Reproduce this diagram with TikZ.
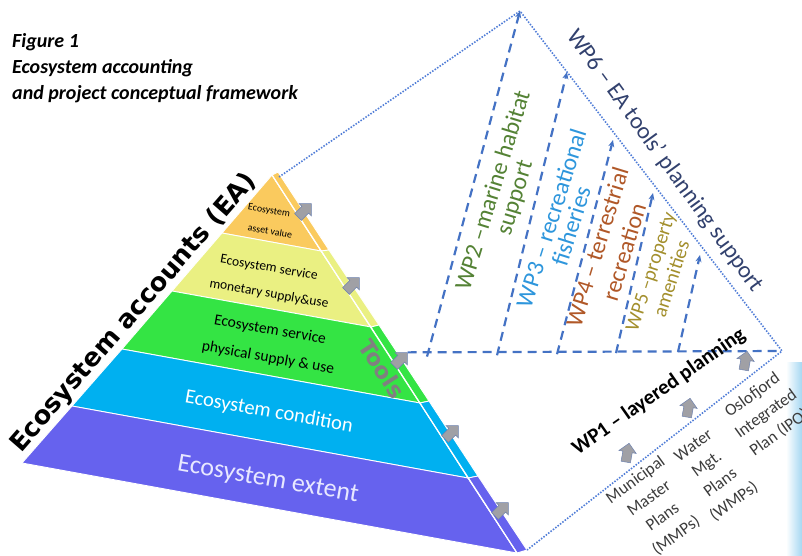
\documentclass[tikz,border=0pt]{standalone}
\usepackage{fontspec}
\setmainfont{Carlito}
\newfontfamily\djv{DejaVu Sans}
\usetikzlibrary{shapes.arrows,arrows.meta,calc}
\definecolor{corange}{RGB}{250,202,94}
\definecolor{cyellow}{RGB}{234,240,130}
\definecolor{cgreen}{RGB}{52,228,68}
\definecolor{cblue}{RGB}{0,176,240}
\definecolor{cpurple}{RGB}{102,98,238}
\definecolor{clav}{RGB}{232,232,255}
\definecolor{lineblue}{RGB}{68,114,196}
\definecolor{dotblue}{RGB}{80,125,215}
\definecolor{wptwo}{RGB}{84,130,53}
\definecolor{wpthree}{RGB}{46,150,220}
\definecolor{wpfour}{RGB}{176,88,40}
\definecolor{wpfive}{RGB}{163,143,45}
\definecolor{wpsix}{RGB}{50,65,110}
\definecolor{arrgray}{RGB}{160,160,165}
\definecolor{arredge}{RGB}{110,130,175}
\definecolor{txtgray}{RGB}{60,60,60}
\definecolor{barblue}{RGB}{165,215,242}
\tikzset{
  layer/.style={draw=white, line width=0.9pt},
  gar/.style={single arrow, fill=arrgray, draw=arredge, line width=0.5pt,
    minimum height=19pt, single arrow head extend=4pt, inner sep=4.5pt},
  dotl/.style={dotblue, line width=1.6pt, dash pattern=on 1.5pt off 1.5pt},
  dashl/.style={lineblue, line width=2.2pt, dash pattern=on 9pt off 6pt},
  dasharr/.style={dashl, -{Stealth[length=7pt,width=6pt]}},
  ltext/.style={inner sep=0pt, rotate=-10},
  ttl/.style={anchor=base west, inner sep=0pt, font=\fontsize{20}{22}\selectfont\bfseries\itshape},
  wptext/.style={inner sep=0pt, font=\fontsize{24}{26}\selectfont},
  coltext/.style={inner sep=0pt, rotate=36, align=center, text=txtgray, font=\fontsize{17}{23}\selectfont}
}
\begin{document}
\begin{tikzpicture}[x=1pt,y=-1pt]
\useasboundingbox (0,0) rectangle (802,555);
% right edge bar
\shade[left color=white, right color=barblue] (786,362) rectangle (802,555);
% title
\node[ttl] (t1) at (12,47) {Figure 1};
\node[ttl] (t2) at (12,73) {Ecosystem accounting};
\node[ttl] (t3) at (12,99) {and project conceptual framework};
% pyramid coordinates
\coordinate (A) at (272,175);
\coordinate (L1) at (222,233); \coordinate (L2) at (172,291); \coordinate (L3) at (122,349);
\coordinate (L4) at (72,406);  \coordinate (L5) at (22,463);
\coordinate (R1) at (321,251); \coordinate (R2) at (371,327); \coordinate (R3) at (420,403);
\coordinate (R4) at (468,478); \coordinate (R5) at (517,553);
\coordinate (O0) at (278,172); \coordinate (O1) at (329,250); \coordinate (O2) at (379,325);
\coordinate (O3) at (429,401); \coordinate (O4) at (478,476); \coordinate (O5) at (527,550);
% front face
\filldraw[layer, fill=corange] (A) -- (L1) -- (R1) -- cycle;
\filldraw[layer, fill=cyellow] (L1) -- (L2) -- (R2) -- (R1) -- cycle;
\filldraw[layer, fill=cgreen] (L2) -- (L3) -- (R3) -- (R2) -- cycle;
\filldraw[layer, fill=cblue] (L3) -- (L4) -- (R4) -- (R3) -- cycle;
\filldraw[layer, fill=cpurple] (L4) -- (L5) -- (R5) -- (R4) -- cycle;
% side face
\filldraw[layer, fill=corange] (A) -- (O0) -- (O1) -- (R1) -- cycle;
\filldraw[layer, fill=cyellow] (R1) -- (O1) -- (O2) -- (R2) -- cycle;
\filldraw[layer, fill=cgreen] (R2) -- (O2) -- (O3) -- (R3) -- cycle;
\filldraw[layer, fill=cblue] (R3) -- (O3) -- (O4) -- (R4) -- cycle;
\filldraw[layer, fill=cpurple] (R4) -- (O4) -- (O5) -- (R5) -- cycle;
\draw[white, line width=1.2pt] (A) -- (R5);
% layer texts
\node[ltext, font=\fontsize{10}{12}\selectfont] (o1) at (269,211) {Ecosystem};
\node[ltext, font=\fontsize{10}{12}\selectfont] (o2) at (270,231) {asset value};
\node[ltext, font=\fontsize{13.5}{15}\selectfont] (y1) at (269,268) {Ecosystem service};
\node[ltext, font=\fontsize{13.5}{15}\selectfont] (y2) at (269,294) {monetary supply\&use};
\node[ltext, font=\fontsize{15.5}{17}\selectfont] (g1) at (270,330) {Ecosystem service};
\node[ltext, font=\fontsize{15.5}{17}\selectfont] (g2) at (268,358) {physical supply \& use};
\node[ltext, text=white, font=\fontsize{20.5}{22}\selectfont] (b1) at (269,412) {Ecosystem condition};
\node[ltext, text=clav, font=\fontsize{26}{28}\selectfont] (p1) at (268,480) {Ecosystem extent};
% side labels
\node[inner sep=0pt, rotate=49, font=\djv\bfseries\fontsize{25.5}{28}\selectfont] (ea) at (134,313) {Ecosystem accounts (EA)};
\node[inner sep=0pt, rotate=-57, text=gray, font=\djv\bfseries\fontsize{22.5}{24}\selectfont] (tools) at (382,369) {Tools};
% gray arrows on pyramid side
\node[gar, rotate=45] (g1a) at (303,212) {};
\node[gar, rotate=45] (g2a) at (351,286) {};
\node[gar, rotate=45] (g3a) at (399,361) {};
\node[gar, rotate=45] (g4a) at (450,434) {};
\node[gar, rotate=45] (g5a) at (500,511) {};
% dotted frame
\coordinate (V) at (520,11);
\coordinate (C) at (782,351);
\coordinate (P0) at (279,177);
\draw[dotl] (P0) -- (V) -- (C) -- (O5);
% dashed structure
\coordinate (B1) at (427,356.6); \coordinate (B2) at (497,355.3); \coordinate (B3) at (557,354.2);
\coordinate (B4) at (616,353.1); \coordinate (B5) at (678,351.9);
\coordinate (T2) at (567,72); \coordinate (T3) at (613,140); \coordinate (T4) at (653,193); \coordinate (T5) at (700,255);
\draw[dashl] (g3a.tip) -- (C);
\draw[dasharr] (B1) -- (V);
\draw[dasharr] (B2) -- (T2);
\draw[dasharr] (B3) -- (T3);
\draw[dasharr] (B4) -- (T4);
\draw[dasharr] (B5) -- (T5);
% WP labels
\node[wptext, rotate=73, text=wptwo] (wp2a) at (492,190) {WP2 –marine habitat};
\node[wptext, rotate=73, text=wptwo] (wp2b) at (516,198) {support};
\node[wptext, rotate=72.5, text=wpthree] (wp3a) at (551,218) {WP3 – recreational};
\node[wptext, rotate=72.5, text=wpthree] (wp3b) at (571,226) {fisheries};
\node[wptext, rotate=73, text=wpfour] (wp4a) at (597,247) {WP4 – terrestrial};
\node[wptext, rotate=73, text=wpfour] (wp4b) at (624,252) {recreation};
\node[wptext, rotate=72, text=wpfive, font=\fontsize{20}{22}\selectfont] (wp5a) at (652,272) {WP5 –property};
\node[wptext, rotate=72, text=wpfive, font=\fontsize{20}{22}\selectfont] (wp5b) at (671,279) {amenities};
\node[inner sep=0pt, rotate=-54, text=wpsix, font=\fontsize{23.5}{26}\selectfont] (wp6) at (665,161) {WP6 – EA tools’ planning support};
% WP1
\node[inner sep=0pt, rotate=35, font=\bfseries\fontsize{21}{24}\selectfont] (wp1) at (659,392) {WP1 – layered planning};
\node[gar, rotate=80] (w1a) at (627,455) {};
\node[gar, rotate=80] (w2a) at (688,410) {};
\node[gar, rotate=80] (w3a) at (745,363) {};
\node[coltext] (c1) at (656,508) {Municipal\\Master\\Plans\\(MMPs)};
\node[coltext] (c2) at (714,474) {Water\\Mgt.\\Plans\\(WMPs)};
\node[coltext] (c3) at (766,414) {Oslofjord\\Integrated\\Plan (IPO)};
\end{tikzpicture}
\end{document}
